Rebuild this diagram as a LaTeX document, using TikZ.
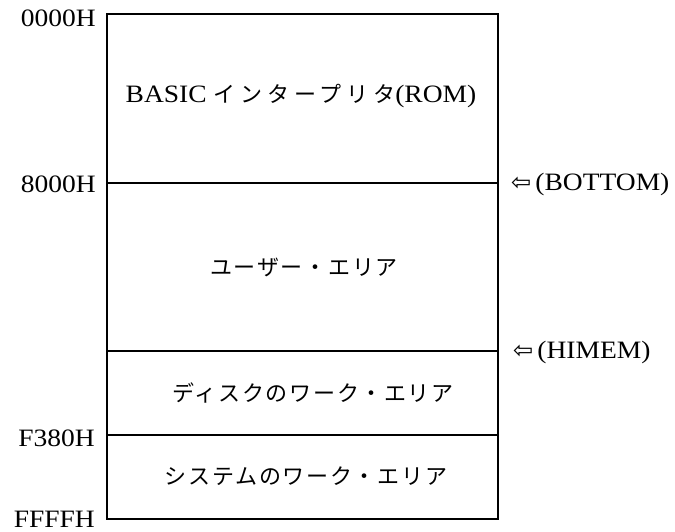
\documentclass[tikz,border=0pt]{standalone}
\usepackage{fontspec}
\setmainfont{Liberation Serif}[FakeStretch=1.1]
\newfontfamily\jpa{Noto Sans CJK JP}[LetterSpace=8]
\newfontfamily\jpb{Noto Sans CJK JP}[LetterSpace=22]
\newfontfamily\symf{DejaVu Sans}
\newcommand\ptrarrowfont{\fontsize{24}{26}\selectfont\symf}

\tikzset{
  frame/.style={line width=2pt},
  divider/.style={line width=1.3pt},
  addr/.style={anchor=east, inner sep=0pt, font=\fontsize{25}{29}\selectfont},
  area/.style={inner sep=0pt, font=\fontsize{25}{29}\selectfont},
  jparea/.style={inner sep=0pt, font=\fontsize{22}{26}\selectfont\jpa},
  ptr/.style={anchor=west, inner sep=0pt, font=\fontsize{25}{29}\selectfont}
}

\begin{document}
\begin{tikzpicture}[x=1pt,y=-1pt]
  \useasboundingbox (0,0) rectangle (675,532);

  % memory map outline
  \coordinate (tl) at (107,14);
  \coordinate (br) at (498,519);
  \draw[frame] (tl) rectangle (br);

  % boundaries between the areas
  \coordinate (d1w) at (107,183); \coordinate (d1e) at (498,183);
  \coordinate (d2w) at (107,351); \coordinate (d2e) at (498,351);
  \coordinate (d3w) at (107,435); \coordinate (d3e) at (498,435);
  \draw[divider] (d1w) -- (d1e);
  \draw[divider] (d2w) -- (d2e);
  \draw[divider] (d3w) -- (d3e);

  % addresses
  \node[addr] (a0) at (96,18)  {0000H};
  \node[addr] (a1) at (96,184) {8000H};
  \node[addr] (a2) at (95,438) {F380H};
  \node[addr] (a3) at (95,519) {FFFFH};

  % area names
  \node[area]   (rom)  at (301,96)  {BASIC {\fontsize{22}{26}\selectfont\jpb インタープリタ}(ROM)};
  \node[jparea] (user) at (304,267) {ユーザー・エリア};
  \node[jparea] (disk) at (313,393) {ディスクのワーク・エリア};
  \node[jparea] (sys)  at (306,476) {システムのワーク・エリア};

  % pointers
  \node[ptr] (bot) at (511,184) {{\ptrarrowfont ⇦}\,(BOTTOM)};
  \node[ptr] (him) at (513,352) {{\ptrarrowfont ⇦}\,(HIMEM)};
\end{tikzpicture}
\end{document}
